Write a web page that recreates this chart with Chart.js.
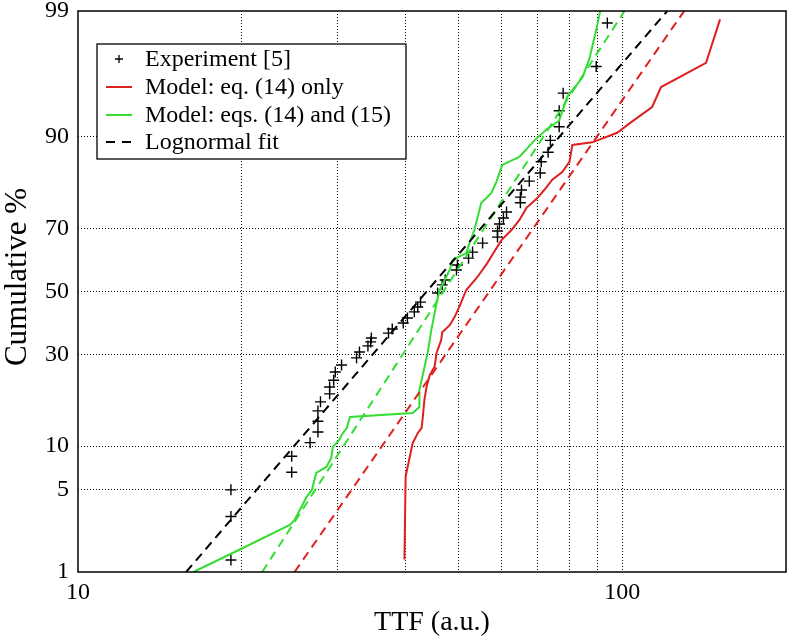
<!DOCTYPE html>
<html><head><meta charset="utf-8">
<script src="https://cdn.jsdelivr.net/npm/chart.js@4.4.1/dist/chart.umd.min.js"></script>
<style>html,body{margin:0;padding:0;background:#fff;}#wrap{width:788px;height:640px;}</style>
</head><body><div id="wrap"><canvas id="c" width="788" height="640"></canvas></div>
<script>
// ---- data (TTF in a.u., cumulative %) ----
const expTTF = [19.1,19.1,19.1,24.7,24.7,26.7,27.6,27.6,27.6,27.9,29.0,29.0,29.5,29.7,30.5,32.5,32.9,34.1,34.5,34.6,37.2,37.8,39.6,40.3,41.5,42.1,42.6,45.8,46.7,47.3,49.6,49.8,52.2,53.1,55.4,59.0,59.0,59.5,60.5,61.3,65.0,65.0,65.3,67.5,70.7,71.0,73.1,73.8,76.6,76.6,77.9,89.6,93.9];
const expPct = [1.3,3.1,5.0,6.7,8.6,10.5,12.2,14.1,16.1,18.0,19.8,21.4,23.1,25.2,27.1,29.1,30.8,32.6,33.8,35.0,36.5,37.8,39.7,41.3,43.3,44.9,46.5,49.5,52.2,53.8,57.1,58.7,60.9,62.8,65.6,67.4,69.2,71.2,72.9,74.5,76.9,78.3,80.0,82.0,83.7,85.9,87.6,89.5,91.4,93.3,95.0,96.9,98.7];

const model14TTF = [39.8,40.0,41.2,41.5,42.1,42.8,43.0,43.3,43.7,44.3,45.2,45.6,46.5,46.7,48.2,49.2,50.2,51.7,54.2,56.5,57.7,60.0,62.6,64.7,66.7,69.6,71.9,74.4,77.6,80.0,81.0,88.1,97.9,103.9,113.5,117.9,142.6,151.3];
const model14Pct = [1.31,6.25,10.4,10.9,12.0,12.9,14.7,18.4,21.4,24.4,26.6,30.5,34.4,36.8,39.0,41.6,44.9,50.5,54.8,59.3,61.9,66.5,69.5,72.3,75.6,77.9,80.0,82.3,83.9,85.9,88.8,89.2,90.6,92.0,93.7,95.5,97.1,98.8];

const model1415TTF = [16.3,20.1,24.5,25.0,26.3,26.9,27.4,28.6,29.2,29.4,30.2,30.5,31.2,31.6,41.2,42.4,42.4,43.0,43.9,44.6,45.6,46.2,48.2,48.8,51.7,52.4,53.5,55.1,56.3,57.5,58.7,60.2,64.7,69.0,72.5,76.6,79.3,84.5,87.0,89.6,91.1];
const model1415Pct = [1.0,1.67,2.64,2.90,4.42,4.99,6.62,7.28,8.37,9.87,10.9,11.7,12.9,14.9,15.7,16.9,20.7,24.4,30.5,37.5,46.2,50.5,57.1,60.3,62.5,65.6,69.5,76.9,78.1,79.3,81.8,85.3,86.8,89.5,91.0,92.2,94.7,96.2,97.3,98.5,99.0];

const fitPct = [1, 99];
const fitExpTTF = [15.8, 121];
const fit14TTF = [25.0, 130];
const fit1415TTF = [21.8, 101];

const yTickPct = [1, 5, 10, 30, 50, 70, 90, 99];
const xGridVals = [10, 20, 30, 40, 50, 60, 70, 80, 90, 100, 200];
const xTickLabels = [10, 100];

const legendLabels = ['Experiment [5]', 'Model: eq. (14) only', 'Model: eqs. (14) and (15)', 'Lognormal fit'];
const yTitle = 'Cumulative %';
const xTitle = 'TTF (a.u.)';

// ---- normal probability (probit) transform ----
function probit(p){
  const a=[-3.969683028665376e+01,2.209460984245205e+02,-2.759285104469687e+02,1.383577518672690e+02,-3.066479806614716e+01,2.506628277459239e+00];
  const b=[-5.447609879822406e+01,1.615858368580409e+02,-1.556989798598866e+02,6.680131188771972e+01,-1.328068155288572e+01];
  const c=[-7.784894002430293e-03,-3.223964580411365e-01,-2.400758277161838e+00,-2.549732539343734e+00,4.374664141464968e+00,2.938163982698783e+00];
  const d=[7.784695709041462e-03,3.224671290700398e-01,2.445134137142996e+00,3.754408661907416e+00];
  const pl=0.02425, ph=1-pl; let q,r;
  if(p<pl){q=Math.sqrt(-2*Math.log(p));return (((((c[0]*q+c[1])*q+c[2])*q+c[3])*q+c[4])*q+c[5])/((((d[0]*q+d[1])*q+d[2])*q+d[3])*q+1);}
  if(p<=ph){q=p-0.5;r=q*q;return (((((a[0]*r+a[1])*r+a[2])*r+a[3])*r+a[4])*r+a[5])*q/(((((b[0]*r+b[1])*r+b[2])*r+b[3])*r+b[4])*r+1);}
  q=Math.sqrt(-2*Math.log(1-p));return -(((((c[0]*q+c[1])*q+c[2])*q+c[3])*q+c[4])*q+c[5])/((((d[0]*q+d[1])*q+d[2])*q+d[3])*q+1);
}
const pts = (xs, ps) => xs.map((x,i)=>({x:x, y:probit(ps[i]/100)}));

const F = "'Liberation Serif','DejaVu Serif',serif";
const RED = '#dd2020', GREEN = '#33dd33';

const framePlugin = {
  id:'frameLegend',
  afterDraw(chart){
    const {ctx, chartArea:a} = chart;
    ctx.save();
    ctx.strokeStyle='#000'; ctx.lineWidth=1.5; ctx.setLineDash([]);
    ctx.strokeRect(a.left, a.top, a.right-a.left, a.bottom-a.top);
    // y-axis title
    ctx.save();
    ctx.translate(18, 277); ctx.rotate(-Math.PI/2);
    ctx.font = "31px "+F; ctx.fillStyle='#000'; ctx.textAlign='center'; ctx.textBaseline='middle';
    ctx.fillText(yTitle, 0, 0);
    ctx.restore();
    // legend box
    const bx=a.left+19, by=a.top+33, bw=309, bh=115;
    ctx.fillStyle='#fff'; ctx.fillRect(bx,by,bw,bh);
    ctx.lineWidth=1.3; ctx.strokeRect(bx,by,bw,bh);
    const rows=[by+15, by+43, by+71, by+98];
    ctx.font = "24px "+F; ctx.fillStyle='#000'; ctx.textBaseline='middle'; ctx.textAlign='left';
    ctx.lineWidth=1.3; ctx.strokeStyle='#000';
    ctx.beginPath(); ctx.moveTo(bx+18,rows[0]); ctx.lineTo(bx+26,rows[0]); ctx.moveTo(bx+22,rows[0]-4); ctx.lineTo(bx+22,rows[0]+4); ctx.stroke();
    ctx.lineWidth=2;
    ctx.strokeStyle=RED; ctx.beginPath(); ctx.moveTo(bx+9,rows[1]); ctx.lineTo(bx+35,rows[1]); ctx.stroke();
    ctx.strokeStyle=GREEN; ctx.beginPath(); ctx.moveTo(bx+9,rows[2]); ctx.lineTo(bx+35,rows[2]); ctx.stroke();
    ctx.strokeStyle='#000'; ctx.setLineDash([9,7]); ctx.beginPath(); ctx.moveTo(bx+9,rows[3]); ctx.lineTo(bx+35,rows[3]); ctx.stroke();
    ctx.setLineDash([]);
    legendLabels.forEach((t,i)=>ctx.fillText(t, bx+48, rows[i]+1));
    ctx.restore();
  }
};

const lineDs = (data, color, dash) => ({data, showLine:true, borderColor:color, backgroundColor:color, borderWidth:2, pointRadius:0, borderDash:dash||[], tension:0, fill:false});

new Chart(document.getElementById('c'), {
  type:'scatter',
  data:{datasets:[
    lineDs(pts(fitExpTTF, fitPct), '#000', [9,6]),
    lineDs(pts(fit1415TTF, fitPct), GREEN, [9,6]),
    lineDs(pts(fit14TTF, fitPct), RED, [9,6]),
    lineDs(pts(model14TTF, model14Pct), RED),
    lineDs(pts(model1415TTF, model1415Pct), GREEN),
    {data: pts(expTTF, expPct), showLine:false, pointStyle:'cross', pointRadius:5.5, borderColor:'#000', borderWidth:1.4, backgroundColor:'#000'}
  ]},
  options:{
    responsive:false, animation:false, devicePixelRatio:1,
    layout:{autoPadding:false, padding:{top:11,right:2,left:0,bottom:0}},
    plugins:{legend:{display:false}, tooltip:{enabled:false}},
    scales:{
      x:{type:'logarithmic', min:10, max:200,
        afterBuildTicks:s=>{s.ticks = xGridVals.map(v=>({value:v}));},
        afterFit:s=>{s.height=68; s.paddingLeft=0; s.paddingRight=0;},
        ticks:{autoSkip:false, maxRotation:0, minRotation:0, padding:6, color:'#000', font:{family:F,size:24},
          callback:v=>xTickLabels.includes(v)?String(v):''},
        grid:{drawTicks:false, lineWidth:1, color:c=>(c.tick && (c.tick.value===10||c.tick.value===200))?'rgba(0,0,0,0)':'#000'},
        border:{display:false, dash:[1,2]},
        title:{display:true, text:xTitle, color:'#000', font:{family:F,size:28}, padding:{top:0,bottom:1}}
      },
      y:{type:'linear', min:probit(0.01), max:probit(0.99),
        afterBuildTicks:s=>{s.ticks = yTickPct.map(p=>({value:probit(p/100)}));},
        afterFit:s=>{s.width=78; s.paddingTop=0; s.paddingBottom=0;},
        ticks:{autoSkip:false, padding:9, color:'#000', font:{family:F,size:24},
          callback:v=>{const i=yTickPct.findIndex(p=>Math.abs(probit(p/100)-v)<1e-9); return i>=0?String(yTickPct[i]):'';}},
        grid:{drawTicks:false, lineWidth:1, color:c=>(c.tick && Math.abs(c.tick.value)>2.3)?'rgba(0,0,0,0)':'#000'},
        border:{display:false, dash:[1,2]}
      }
    }
  },
  plugins:[framePlugin]
});
</script>
</body></html>
